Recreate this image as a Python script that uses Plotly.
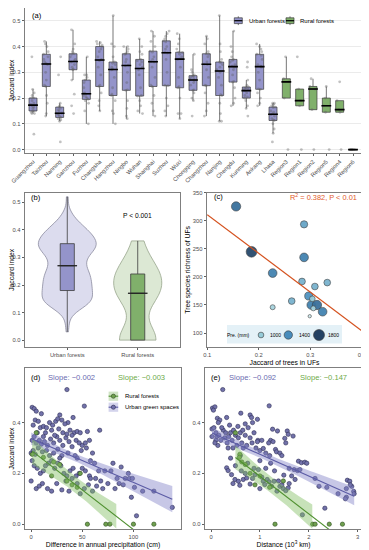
import numpy as np
import plotly.graph_objects as go

FONT = "Liberation Sans"
W, H = 369, 550
OFF = 8  # the page places the figure 8 px in from the top-left corner

# ---------------- data: panel (a) ----------------
cities = ["Guangzhou", "Taizhou", "Nanning", "Ganzhou", "Fuzhou", "Changsha", "Hangzhou",
          "Ningbo", "Wuhan", "Shanghai", "Suzhou", "Wuxi", "Chongqing", "Changzhou",
          "Nanjing", "Chengdu", "Kunming", "Ankang", "Lhasa"]
city_jaccard = [
    [0.06, 0.14, 0.14, 0.145, 0.15, 0.15, 0.16, 0.165, 0.17, 0.175, 0.18, 0.19, 0.2, 0.2, 0.21, 0.22, 0.234, 0.36],
    [0.13, 0.14, 0.18, 0.21, 0.245, 0.25, 0.27, 0.3, 0.33, 0.335, 0.34, 0.35, 0.36, 0.37, 0.38, 0.4, 0.41, 0.42],
    [0.03, 0.11, 0.115, 0.12, 0.125, 0.13, 0.135, 0.14, 0.14, 0.142, 0.15, 0.155, 0.16, 0.165, 0.17, 0.18, 0.29, 0.36],
    [0.14, 0.17, 0.215, 0.27, 0.31, 0.312, 0.32, 0.33, 0.34, 0.344, 0.35, 0.36, 0.37, 0.372, 0.38, 0.39, 0.41, 0.465],
    [0.1, 0.15, 0.18, 0.19, 0.195, 0.2, 0.205, 0.21, 0.215, 0.218, 0.22, 0.24, 0.26, 0.27, 0.28, 0.29, 0.29, 0.36],
    [0.15, 0.17, 0.19, 0.22, 0.245, 0.25, 0.29, 0.32, 0.345, 0.35, 0.36, 0.38, 0.39, 0.4, 0.405, 0.41, 0.415, 0.42],
    [0.1, 0.14, 0.15, 0.19, 0.21, 0.215, 0.24, 0.28, 0.31, 0.312, 0.32, 0.33, 0.335, 0.34, 0.36, 0.4, 0.41, 0.52],
    [0.12, 0.13, 0.16, 0.19, 0.23, 0.232, 0.26, 0.3, 0.325, 0.328, 0.34, 0.35, 0.37, 0.372, 0.38, 0.39, 0.4, 0.4],
    [0.14, 0.15, 0.17, 0.19, 0.208, 0.21, 0.24, 0.29, 0.31, 0.32, 0.33, 0.34, 0.345, 0.35, 0.37, 0.38, 0.4, 0.43],
    [0.13, 0.15, 0.18, 0.21, 0.245, 0.25, 0.28, 0.32, 0.34, 0.342, 0.35, 0.36, 0.378, 0.382, 0.4, 0.42, 0.44, 0.46],
    [0.13, 0.15, 0.17, 0.2, 0.248, 0.25, 0.3, 0.35, 0.375, 0.377, 0.39, 0.4, 0.418, 0.422, 0.43, 0.44, 0.45, 0.46],
    [0.12, 0.14, 0.14, 0.2, 0.24, 0.244, 0.28, 0.32, 0.35, 0.352, 0.36, 0.37, 0.376, 0.378, 0.39, 0.41, 0.43, 0.45],
    [0.13, 0.19, 0.2, 0.22, 0.23, 0.232, 0.25, 0.26, 0.268, 0.272, 0.275, 0.28, 0.285, 0.287, 0.29, 0.3, 0.31, 0.37],
    [0.13, 0.15, 0.18, 0.22, 0.248, 0.25, 0.28, 0.31, 0.33, 0.332, 0.34, 0.36, 0.37, 0.372, 0.38, 0.41, 0.43, 0.44],
    [0.11, 0.11, 0.14, 0.18, 0.21, 0.213, 0.25, 0.28, 0.3, 0.31, 0.32, 0.33, 0.338, 0.34, 0.35, 0.38, 0.41, 0.52],
    [0.17, 0.18, 0.2, 0.24, 0.262, 0.265, 0.29, 0.31, 0.32, 0.324, 0.33, 0.34, 0.346, 0.35, 0.36, 0.38, 0.4, 0.46],
    [0.13, 0.16, 0.17, 0.19, 0.2, 0.205, 0.21, 0.22, 0.228, 0.23, 0.235, 0.238, 0.24, 0.243, 0.25, 0.27, 0.32, 0.34],
    [0.17, 0.18, 0.2, 0.22, 0.234, 0.236, 0.27, 0.3, 0.32, 0.324, 0.33, 0.35, 0.366, 0.37, 0.38, 0.39, 0.4, 0.41],
    [0.03, 0.063, 0.08, 0.1, 0.113, 0.115, 0.12, 0.13, 0.135, 0.139, 0.145, 0.15, 0.163, 0.165, 0.17, 0.175, 0.18, 0.18],
]
regions = ["Region3", "Region1", "Region2", "Region5", "Region4", "Region6"]
region_jaccard = [
    [0.36, 0.275, 0.20, 0.263, 0.0],
    [0.36, 0.235, 0.17, 0.19, 0.0],
    [0.275, 0.235, 0.245, 0.155, 0.0],
    [0.20, 0.17, 0.245, 0.145, 0.0],
    [0.263, 0.19, 0.155, 0.145, 0.0],
    [0.0, 0.0, 0.0, 0.0, 0.0],
]
a_yticks = [0.0, 0.1, 0.2, 0.3, 0.4, 0.5]

# ---------------- data: panel (b) ----------------
groups = ["Urban forests", "Rural forests"]
b_ptext = "P < 0.001"

# ---------------- data: panel (c) ----------------
c_jaccard = [0.156, 0.186, 0.288, 0.288, 0.227, 0.284, 0.309, 0.333, 0.264, 0.227,
             0.297, 0.302, 0.313, 0.306, 0.324, 0.299, 0.304]
c_richness = [326, 245, 294, 235, 207, 192, 183, 190, 157, 146, 166, 150, 150, 144, 138, 130, 161]
c_prec = [1545, 1760, 1240, 1450, 1450, 1150, 1150, 1150, 1150, 900, 1350, 1450, 1550, 900, 1450, 640, 1000]
c_legend_prec = [1000, 1400, 1800]
c_stat_text = "R<sup>2</sup> = 0.382, P < 0.01"
c_xticks = [0.1, 0.2, 0.3, 0.4]
c_yticks = [100, 150, 200, 250, 300, 350]

# ---------------- data: panels (d) and (e) ----------------
rural_pair_jaccard = [0.36, 0.275, 0.263, 0.245, 0.235, 0.20, 0.19, 0.17, 0.155, 0.145, 0, 0, 0, 0, 0]
rural_pair_dprec = [5, 1, 12, 22, 28, 48, 20, 35, 40, 45, 55, 73, 77, 100, 120]
rural_pair_dist = [0.5, 0.59, 0.58, 0.63, 0.7, 0.8, 1.0, 1.48, 0.9, 1.2, 1.31, 2.08, 2.13, 2.42, 2.69]

urban_dprec_pts = [
    (35, 0.53), (1, 0.46), (3, 0.455), (5, 0.445), (10, 0.435), (52, 0.465), (28, 0.43), (41, 0.42), (36, 0.40),
    (4, 0.41), (7, 0.405), (2, 0.39), (9, 0.38), (12, 0.385), (15, 0.38), (18, 0.40), (21, 0.39), (24, 0.405),
    (26, 0.415), (30, 0.41), (33, 0.395), (38, 0.37), (42, 0.36), (45, 0.365), (48, 0.36), (55, 0.365), (67, 0.37),
    (20, 0.37), (14, 0.36), (6, 0.36), (27, 0.375), (31, 0.36), (40, 0.35),
    (1, 0.33), (3, 0.345), (5, 0.32), (8, 0.33), (10, 0.315), (13, 0.325), (16, 0.31), (19, 0.335), (22, 0.32),
    (25, 0.345), (28, 0.33), (31, 0.31), (34, 0.34), (37, 0.325), (40, 0.305), (44, 0.33), (47, 0.32), (50, 0.31),
    (53, 0.32), (57, 0.33), (12, 0.345), (23, 0.35), (35, 0.355),
    (0, 0.28), (2, 0.29), (4, 0.275), (7, 0.3), (11, 0.285), (15, 0.29), (18, 0.27), (22, 0.28), (26, 0.295),
    (30, 0.27), (36, 0.28), (43, 0.27), (49, 0.29), (54, 0.3), (60, 0.28), (45, 0.26), (28, 0.26),
    (1, 0.25), (3, 0.23), (6, 0.22), (9, 0.2), (12, 0.21), (14, 0.23), (17, 0.24), (20, 0.25), (23, 0.22),
    (26, 0.24), (29, 0.23), (32, 0.2), (35, 0.19), (38, 0.21), (41, 0.22), (44, 0.19), (47, 0.2), (50, 0.22),
    (53, 0.21), (57, 0.19), (62, 0.24), (66, 0.21), (72, 0.21), (78, 0.21), (58, 0.25),
    (0, 0.17), (5, 0.14), (8, 0.15), (11, 0.16), (16, 0.14), (20, 0.13), (25, 0.16), (30, 0.135), (34, 0.17),
    (37, 0.13), (40, 0.18), (45, 0.16), (48, 0.12), (52, 0.14), (56, 0.155), (60, 0.13), (64, 0.15), (70, 0.14),
    (75, 0.16), (82, 0.14), (86, 0.16), (90, 0.155), (63, 0.18), (68, 0.17), (58, 0.18),
    (88, 0.225), (92, 0.18), (96, 0.18), (99, 0.18), (101, 0.145), (109, 0.13), (98, 0.106), (103, 0.033),
    (138, 0.066), (80, 0.24), (84, 0.18), (95, 0.2), (120, 0.13),
]
urban_dist_pts = [
    (0.24, 0.53), (0.03, 0.457), (0.08, 0.462), (0.05, 0.449), (1.19, 0.466), (0.61, 0.437), (0.8, 0.43),
    (0.83, 0.42), (0.95, 0.413), (0.13, 0.417), (0.18, 0.41), (0.15, 0.40), (0.32, 0.42),
    (0.02, 0.375), (0.06, 0.38), (0.1, 0.36), (0.12, 0.345), (0.16, 0.35), (0.2, 0.33), (0.25, 0.37),
    (0.28, 0.34), (0.3, 0.36), (0.33, 0.32), (0.36, 0.345), (0.4, 0.36), (0.43, 0.33), (0.46, 0.37),
    (0.5, 0.35), (0.53, 0.31), (0.56, 0.34), (0.6, 0.36), (0.63, 0.32), (0.66, 0.3), (0.7, 0.35),
    (0.73, 0.31), (0.76, 0.38), (0.8, 0.34), (0.84, 0.32), (0.88, 0.36), (0.92, 0.3), (0.96, 0.33),
    (0.1, 0.33), (0.22, 0.38), (0.38, 0.39), (0.55, 0.385), (0.7, 0.395), (0.85, 0.4), (0.14, 0.31),
    (0.45, 0.3), (0.02, 0.345), (0.08, 0.32), (0.35, 0.3), (0.65, 0.37),
    (1.26, 0.374), (1.36, 0.367), (1.56, 0.367), (1.58, 0.354), (1.68, 0.347), (1.51, 0.338), (1.53, 0.32),
    (1.22, 0.33), (1.27, 0.325), (1.18, 0.32), (0.95, 0.325), (1.04, 0.33), (1.32, 0.294), (1.34, 0.285),
    (1.41, 0.28), (1.07, 0.298), (1.12, 0.28), (1.45, 0.27), (1.0, 0.29), (1.2, 0.27),
    (1.79, 0.248), (1.85, 0.242), (1.92, 0.244), (1.96, 0.24), (1.70, 0.215), (1.77, 0.211), (1.82, 0.215),
    (1.49, 0.193), (1.72, 0.176), (2.13, 0.18), (2.21, 0.149), (2.37, 0.145), (2.33, 0.063), (1.87, 0.037),
    (1.6, 0.22), (1.65, 0.19),
    (2.79, 0.173), (2.84, 0.169), (2.77, 0.14), (2.88, 0.149), (2.92, 0.129), (2.77, 0.106), (2.75, 0.1),
    (2.93, 0.12), (2.6, 0.12), (2.85, 0.155),
    (0.32, 0.222), (0.35, 0.211), (0.42, 0.195), (0.49, 0.176), (0.56, 0.169), (0.59, 0.153), (0.66, 0.176),
    (0.73, 0.182), (0.8, 0.158), (0.85, 0.18), (0.9, 0.195), (0.97, 0.215), (1.04, 0.185), (1.07, 0.169),
    (1.1, 0.156), (1.15, 0.176), (1.19, 0.166), (1.24, 0.149), (1.29, 0.169), (1.41, 0.149), (1.48, 0.14),
    (1.53, 0.132), (1.58, 0.143), (1.35, 0.13), (1.45, 0.155), (0.5, 0.23), (0.62, 0.21), (0.75, 0.24),
    (0.88, 0.22), (1.0, 0.25), (1.12, 0.22), (0.7, 0.2), (1.3, 0.21), (0.45, 0.16), (1.6, 0.16),
    (1.38, 0.17), (1.0, 0.14), (0.6, 0.27), (0.4, 0.26), (1.22, 0.24),
]
d_slope_texts = ["Slope: \u22120.002", "Slope: \u22120.003"]
e_slope_texts = ["Slope: \u22120.092", "Slope: \u22120.147"]
de_legend = ["Rural forests", "Urban green spaces"]
de_yticks = [0.0, 0.2, 0.4]

# ---------------- styles ----------------
URB_BOX = "#9494CA"
RUR_BOX = "#80B06B"
URB_VIO = "#DCDCEE"
RUR_VIO = "#DCE8D4"
URB_PT, URB_PT_LINE = "#7272AA", "#2E2E55"
RUR_PT, RUR_PT_LINE = "#6FA04F", "#2F4F20"
URB_LINE, RUR_LINE = "#5B5BA5", "#4F9030"
URB_RIB, RUR_RIB = "rgba(130,130,200,0.45)", "rgba(130,190,100,0.45)"
URB_TXT, RUR_TXT = "#6A6AB0", "#6DAA48"
FRAME = "#7f7f7f"

FW, FH = W - OFF, H - OFF


def px(x):
    return min(1.0, max(0.0, (x - OFF) / FW))


def py(y):
    return min(1.0, max(0.0, 1 - (y - OFF) / FH))


PRE_STOPS = [(600, (214, 236, 240)), (1000, (150, 203, 216)), (1400, (72, 140, 188)), (1850, (30, 56, 88))]


def pre_color(p):
    for (p0, c0), (p1, c1) in zip(PRE_STOPS[:-1], PRE_STOPS[1:]):
        if p <= p1:
            t = max(0.0, (p - p0) / (p1 - p0))
            return "rgb(%d,%d,%d)" % tuple(round(a + (b - a) * t) for a, b in zip(c0, c1))
    return "rgb(%d,%d,%d)" % PRE_STOPS[-1][1]


def pre_size(p):
    return 5.7 + (p - 1000) * 0.0066


def t975(df):
    z = 1.959964
    return z + (z ** 3 + z) / (4 * df) + (5 * z ** 5 + 16 * z ** 3 + 3 * z) / (96 * df ** 2)


def lm_fit(x, y, lo):
    x = np.asarray(x, float)
    y = np.asarray(y, float)
    n = len(x)
    b1, b0 = np.polyfit(x, y, 1)
    xg = np.linspace(x.min(), x.max(), 150)
    yh = b0 + b1 * xg
    s = np.sqrt(np.sum((y - b0 - b1 * x) ** 2) / (n - 2))
    se = s * np.sqrt(1 / n + (xg - x.mean()) ** 2 / np.sum((x - x.mean()) ** 2))
    t = t975(n - 2)
    up, dn = yh + t * se, yh - t * se
    keep = dn >= lo
    return xg, yh, xg[keep], up[keep], dn[keep]


fig = go.Figure()

# ---------------- panel (a) ----------------
ax_u = [c for c, v in zip(cities, city_jaccard) for _ in v]
ay_u = [y for v in city_jaccard for y in v]
ax_r = [c for c, v in zip(regions, region_jaccard) for _ in v]
ay_r = [y for v in region_jaccard for y in v]
pt_marker = dict(color="rgba(95,95,95,0.38)", size=2.8, line=dict(width=0))
for xs, ys, fc, nm in [(ax_u, ay_u, URB_BOX, groups[0]), (ax_r, ay_r, RUR_BOX, groups[1])]:
    fig.add_trace(go.Box(x=xs, y=ys, name=nm, xaxis="x", yaxis="y", fillcolor=fc,
                         line=dict(color="#3c3c3c", width=0.7), boxpoints="all", jitter=0.8,
                         pointpos=0, marker=pt_marker, whiskerwidth=0, width=0.6,
                         quartilemethod="inclusive", showlegend=False, hoverinfo="skip"))
fig.add_trace(go.Scatter(x=cities + regions,
                         y=[float(np.percentile(v, 50)) for v in city_jaccard + region_jaccard],
                         xaxis="x", yaxis="y", mode="markers", showlegend=False, hoverinfo="skip",
                         marker=dict(symbol="line-ew", size=7, line=dict(width=1.6, color="black"))))

# ---------------- panel (b) ----------------
urban_all = np.concatenate([np.asarray(v, float) for v in city_jaccard])
rural_all = np.asarray(rural_pair_jaccard, float)
for g, vals, vf, vl, wv, bw, bf in [
        (groups[0], urban_all, URB_VIO, "#8c8ca0", 0.82, 0.024, URB_BOX),
        (groups[1], rural_all, RUR_VIO, "#97a58c", 0.68, 0.055, RUR_BOX)]:
    fig.add_trace(go.Violin(x=[g] * len(vals), y=vals, xaxis="x2", yaxis="y2", fillcolor=vf,
                            line=dict(color=vl, width=0.8), points=False, spanmode="hard",
                            bandwidth=bw, width=wv, scalemode="width", showlegend=False,
                            hoverinfo="skip", opacity=1))
    fig.add_trace(go.Box(x=[g] * len(vals), y=vals, xaxis="x2", yaxis="y2", fillcolor=bf,
                         line=dict(color="#3c3c3c", width=0.8), boxpoints=False, whiskerwidth=0,
                         width=0.2, quartilemethod="inclusive", showlegend=False, hoverinfo="skip"))
fig.add_trace(go.Scatter(x=groups, y=[float(np.percentile(urban_all, 50)), float(np.percentile(rural_all, 50))],
                         xaxis="x2", yaxis="y2", mode="markers", showlegend=False, hoverinfo="skip",
                         marker=dict(symbol="line-ew", size=14, line=dict(width=1.3, color="#222"))))

# ---------------- panel (c) ----------------
cb1, cb0 = np.polyfit(c_jaccard, c_richness, 1)
cx_line = np.array([0.1, 0.4])
fig.add_trace(go.Scatter(x=c_jaccard, y=c_richness, xaxis="x3", yaxis="y3", mode="markers",
                         showlegend=False, hoverinfo="skip",
                         marker=dict(size=[pre_size(p) for p in c_prec], color=[pre_color(p) for p in c_prec],
                                     line=dict(width=0.6, color="#3a3a3a"), opacity=0.95)))
fig.add_trace(go.Scatter(x=cx_line, y=cb0 + cb1 * cx_line, xaxis="x3", yaxis="y3", mode="lines",
                         line=dict(color="#D4511E", width=1.2), showlegend=False, hoverinfo="skip"))

# ---------------- panels (d) and (e) ----------------
Y_LO = -0.019
ud = np.array(urban_dprec_pts, float)
ue = np.array(urban_dist_pts, float)
panels = [
    ("x4", "y4", ud[:, 0], ud[:, 1], rural_pair_dprec),
    ("x5", "y5", ue[:, 0], ue[:, 1], rural_pair_dist),
]
for xa, ya, ux, uy, rx in panels:
    fig.add_trace(go.Scatter(x=ux, y=uy, xaxis=xa, yaxis=ya, mode="markers", showlegend=False,
                             hoverinfo="skip", marker=dict(size=4.3, color=URB_PT,
                                                           line=dict(width=0.6, color=URB_PT_LINE))))
    fig.add_trace(go.Scatter(x=rx, y=rural_pair_jaccard, xaxis=xa, yaxis=ya, mode="markers",
                             showlegend=False, hoverinfo="skip",
                             marker=dict(size=4.3, color=RUR_PT, line=dict(width=0.6, color=RUR_PT_LINE))))
    fits = []
    for xx, yy, rib in [(ux, uy, URB_RIB), (rx, rural_pair_jaccard, RUR_RIB)]:
        xg, yh, xk, up, dn = lm_fit(xx, yy, Y_LO)
        fits.append((xg, yh))
        fig.add_trace(go.Scatter(x=np.concatenate([xk, xk[::-1]]), y=np.concatenate([up, dn[::-1]]),
                                 xaxis=xa, yaxis=ya, mode="lines", fill="toself", fillcolor=rib,
                                 line=dict(width=0), showlegend=False, hoverinfo="skip"))
    for (xg, yh), lc in zip(fits, [URB_LINE, RUR_LINE]):
        fig.add_trace(go.Scatter(x=xg, y=yh, xaxis=xa, yaxis=ya, mode="lines",
                                 line=dict(color=lc, width=1.1), showlegend=False, hoverinfo="skip"))

# ---------------- layout ----------------
TICKF = dict(size=5.8, color="#4d4d4d", family=FONT)
TITLEF = dict(size=6.8, color="black", family=FONT)


def axis(**kw):
    d = dict(showline=True, linecolor=FRAME, linewidth=0.8, mirror=True, ticks="outside", ticklen=2.5,
             tickwidth=0.6, tickcolor="#606060", tickfont=TICKF, showgrid=False, zeroline=False,
             automargin=False)
    d.update(kw)
    return d


dom_b_y = [py(347), py(192.7)]
dom_de_y = [py(529), py(368)]
layout = dict(
    template="none",
    width=FW, height=FH, margin=dict(l=0, r=0, t=0, b=0, autoexpand=False), paper_bgcolor="white",
    plot_bgcolor="white",
    font=dict(family=FONT), showlegend=False, boxmode="overlay", violinmode="overlay",
    xaxis=axis(domain=[px(25), px(361)], anchor="y", type="category", categoryorder="array",
               categoryarray=cities + regions, range=[-0.6, 24.6], tickangle=-45),
    yaxis=axis(domain=[py(152.7), py(8.4)], anchor="x", range=[-0.012, 0.548], tickvals=a_yticks,
               tickformat=".1f", showgrid=True, gridcolor="#ebebeb", gridwidth=0.6,
               title=dict(text="Jaccard index", font=TITLEF, standoff=1)),
    xaxis2=axis(domain=[px(25), px(180)], anchor="y2", type="category", categoryorder="array",
                categoryarray=groups, range=[-0.6, 1.6]),
    yaxis2=axis(domain=dom_b_y, anchor="x2", range=[-0.025, 0.535], tickvals=a_yticks, tickformat=".1f",
                title=dict(text="Jaccard index", font=TITLEF, standoff=1)),
    xaxis3=axis(domain=[px(207), px(362)], anchor="y3", range=[0.0995, 0.4005], tickvals=c_xticks,
                tickformat=".1f", title=dict(text="Jaccard of trees in UFs", font=TITLEF, standoff=2)),
    yaxis3=axis(domain=dom_b_y, anchor="x3", range=[75, 350.5], tickvals=c_yticks,
                title=dict(text="Tree species richness of UFs", font=TITLEF, standoff=1)),
    xaxis4=axis(domain=[px(25), px(181)], anchor="y4", range=[-6, 146.5], tickvals=[0, 50, 100],
                title=dict(text="Difference in annual precipitation (cm)", font=TITLEF, standoff=2)),
    yaxis4=axis(domain=dom_de_y, anchor="x4", range=[Y_LO, 0.615], tickvals=de_yticks, tickformat=".1f",
                title=dict(text="Jaccard index", font=TITLEF, standoff=1)),
    xaxis5=axis(domain=[px(205), px(362)], anchor="y5", range=[-0.123, 3.09], tickvals=[0, 1, 2, 3],
                title=dict(text="Distance (10<sup>3</sup> km)", font=TITLEF, standoff=2)),
    yaxis5=axis(domain=dom_de_y, anchor="x5", range=[Y_LO, 0.615], tickvals=de_yticks, tickformat=".1f"),
)

ann = []
shapes = []


def text(x, y, s, size, color="black", xanchor="left", xref="paper", yref="paper"):
    ann.append(dict(x=x, y=y, xref=xref, yref=yref, text=s, showarrow=False, xanchor=xanchor,
                    yanchor="middle", font=dict(size=size, color=color, family=FONT)))


# panel labels
text(px(30), py(15), "(a)", 7.6)
text(px(29.3), py(197.3), "(b)", 7.6)
text(px(212), py(196.7), "(c)", 7.6)
text(px(29), py(377), "(d)", 7.6)
text(px(209.3), py(377), "(e)", 7.6)

# panel (a) legend
for cx, fc, lab in [(238.3, URB_BOX, groups[0]), (290.0, RUR_BOX, groups[1])]:
    shapes.append(dict(type="line", xref="paper", yref="paper", x0=px(cx), x1=px(cx), y0=py(16.3), y1=py(25.1),
                       line=dict(color="#3c3c3c", width=0.7)))
    shapes.append(dict(type="rect", xref="paper", yref="paper", x0=px(cx - 4), x1=px(cx + 4),
                       y0=py(23.6), y1=py(17.8), fillcolor=fc, line=dict(color="#3c3c3c", width=0.7)))
    shapes.append(dict(type="line", xref="paper", yref="paper", x0=px(cx - 4), x1=px(cx + 4), y0=py(20.7),
                       y1=py(20.7), line=dict(color="black", width=1.2)))
    text(px(cx + 8.4), py(20.7), lab, 6)

# panel (b) p-value
text(1, 0.454, b_ptext, 6.7, xanchor="center", xref="x2", yref="y2")

# panel (c) statistics + legend
text(px(323), py(196.7), c_stat_text, 7.4, color="#E25A2A", xanchor="center")
shapes.append(dict(type="rect", xref="paper", yref="paper", x0=px(227), x1=px(342), y0=py(343.5), y1=py(325),
                   fillcolor="#E4F1F7", line=dict(width=0), layer="below"))
text(px(238), py(335), "Pre. (mm)", 5, xanchor="center")
for cxp, lx, p in zip([261, 288.3, 319], [275, 304, 333], c_legend_prec):
    r = pre_size(p) / 2
    shapes.append(dict(type="circle", xref="paper", yref="paper", x0=px(cxp - r), x1=px(cxp + r),
                       y0=py(335 + r), y1=py(335 - r), fillcolor=pre_color(p),
                       line=dict(color="#3a3a3a", width=0.6)))
    text(px(lx), py(335), str(p), 5, xanchor="center")

# panels (d), (e) slope labels
text(px(71.7), py(377), d_slope_texts[0], 7.6, color=URB_TXT, xanchor="center")
text(px(141.7), py(377), d_slope_texts[1], 7.6, color=RUR_TXT, xanchor="center")
text(px(253), py(377), e_slope_texts[0], 7.6, color=URB_TXT, xanchor="center")
text(px(323), py(377), e_slope_texts[1], 7.6, color=RUR_TXT, xanchor="center")

# panel (d) legend
for cy, rib, lc, pf, pl, lab in [(396.2, "#CFE3C4", RUR_LINE, RUR_PT, RUR_PT_LINE, de_legend[0]),
                                 (407.2, "#D4D4EC", URB_LINE, URB_PT, URB_PT_LINE, de_legend[1])]:
    shapes.append(dict(type="rect", xref="paper", yref="paper", x0=px(108.6), x1=px(118.2),
                       y0=py(cy + 4.6), y1=py(cy - 4.6), fillcolor=rib, line=dict(width=0)))
    shapes.append(dict(type="line", xref="paper", yref="paper", x0=px(108.6), x1=px(118.2), y0=py(cy),
                       y1=py(cy), line=dict(color=lc, width=1.1)))
    shapes.append(dict(type="circle", xref="paper", yref="paper", x0=px(113.4 - 2.1), x1=px(113.4 + 2.1),
                       y0=py(cy + 2.1), y1=py(cy - 2.1), fillcolor=pf, line=dict(color=pl, width=0.6)))
    text(px(122.7), py(cy), lab, 6)

layout["annotations"] = ann
layout["shapes"] = shapes
fig.update_layout(**layout)
fig.write_html("out.html")
